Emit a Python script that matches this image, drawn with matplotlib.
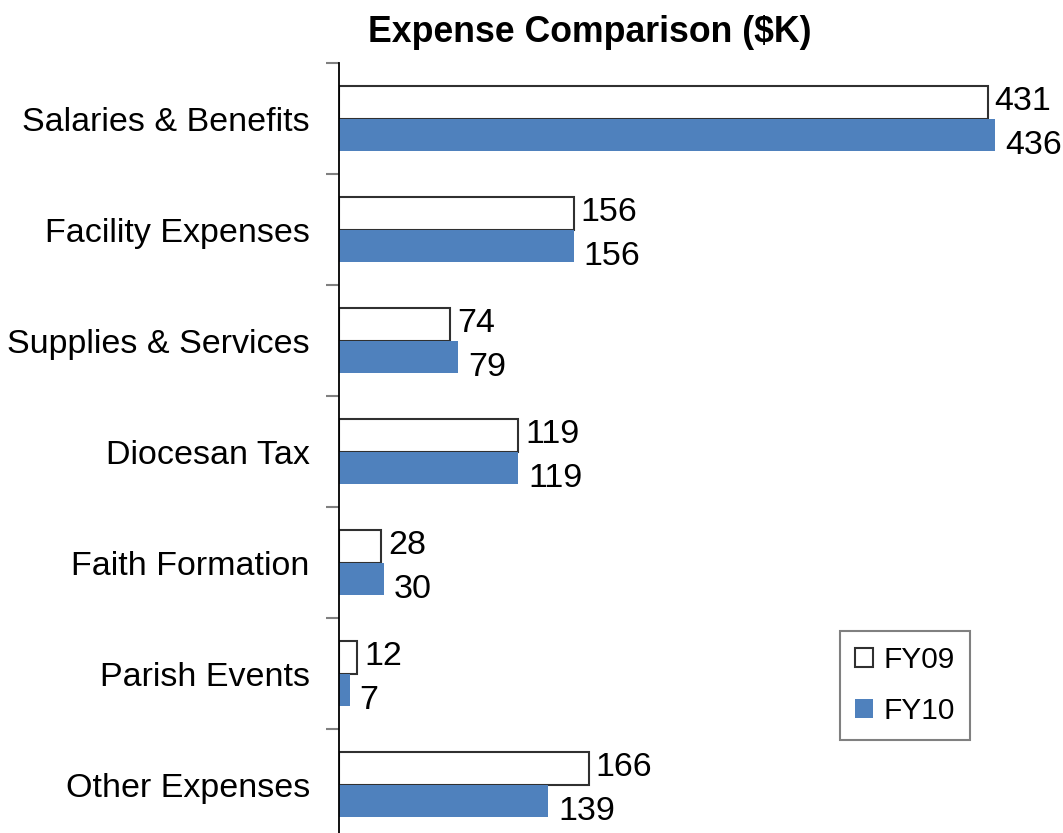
import matplotlib
matplotlib.use("Agg")
import matplotlib.pyplot as plt
from matplotlib import font_manager
from matplotlib.transforms import offset_copy, ScaledTranslation
import numpy as np

categories = ["Salaries & Benefits", "Facility Expenses", "Supplies & Services",
              "Diocesan Tax", "Faith Formation", "Parish Events", "Other Expenses"]
fy09 = [431, 156, 74, 119, 28, 12, 166]
fy10 = [436, 156, 79, 119, 30, 7, 139]
series_names = ["FY09", "FY10"]
title = "Expense Comparison ($K)"

names = {f.name for f in font_manager.fontManager.ttflist}
fam = ["Liberation Sans Narrow", "Liberation Sans", "DejaVu Sans"]
fam = [f for f in fam if f in names] or ["DejaVu Sans"]
plt.rcParams['font.family'] = fam

W, H = 1063, 833
fig = plt.figure(figsize=(W / 100, H / 100), dpi=100)
ax_left, ax_right = 339, 1061.4
ax_top, ax_bot = 63, 840
ax = fig.add_axes([ax_left / W, 1 - ax_bot / H, (ax_right - ax_left) / W, (ax_bot - ax_top) / H])

y = np.arange(len(categories))
h = 0.293
off = h / 2
ax.barh(y - off, fy09, height=h, color="white", edgecolor="#303030", linewidth=1.5,
        label=series_names[0], zorder=2)
ax.barh(y + off, fy10, height=h, color="#4F81BD", edgecolor="none",
        label=series_names[1], zorder=2)

ax.set_xlim(0, 480)
ax.set_ylim(len(categories) - 0.5, -0.5)
for s in ["top", "right", "bottom"]:
    ax.spines[s].set_visible(False)
ax.spines["left"].set_color("black")
ax.spines["left"].set_linewidth(1.3)
ax.set_xticks([])
ax.set_yticks(y)
ax.set_yticklabels(categories, fontsize=24.5)
shift = ScaledTranslation(0, 3 / 100, fig.dpi_scale_trans)
for lbl in ax.get_yticklabels():
    lbl.set_transform(lbl.get_transform() + shift)
ax.set_yticks(np.arange(len(categories) + 1) - 0.5, minor=True)
ax.tick_params(axis="y", which="major", length=0, pad=21)
ax.tick_params(axis="y", which="minor", length=9.5, width=1.5, color="#808080")

t09 = offset_copy(ax.transData, fig=fig, x=7, y=1, units="dots")
t10 = offset_copy(ax.transData, fig=fig, x=10, y=-11, units="dots")
for i in range(len(categories)):
    ax.text(fy09[i], y[i] - off, str(fy09[i]), transform=t09, ha="left", va="center",
            fontsize=24.5)
    ax.text(fy10[i], y[i] + off, str(fy10[i]), transform=t10, ha="left", va="center",
            fontsize=24.5)

fig.text(589.5 / W, 1 - 33 / H, title, ha="center", va="center", fontsize=25.7,
         fontweight="bold", family=["Liberation Sans", "DejaVu Sans"])

leg = ax.legend(loc="upper left", bbox_to_anchor=(840 / W, 1 - 631 / H),
                bbox_transform=fig.transFigure, borderaxespad=0, fontsize=21.5,
                frameon=True, fancybox=False, framealpha=1, edgecolor="#808080",
                handlelength=0.6, handleheight=0.6, handletextpad=0.35,
                labelspacing=0.78, borderpad=0.5)
leg.get_frame().set_linewidth(1.5)

fig.savefig("out.png", dpi=100)
